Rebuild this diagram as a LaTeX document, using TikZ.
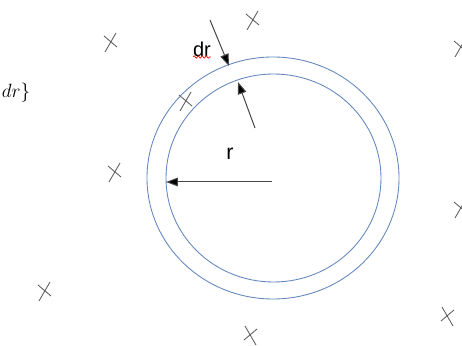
\documentclass[tikz,border=0pt]{standalone}
\usepackage{fontspec}
\setsansfont{Liberation Sans}
\usetikzlibrary{arrows.meta,shapes.geometric,decorations.pathmorphing}
\definecolor{ringblue}{RGB}{100,135,190}
\definecolor{linegray}{RGB}{70,70,70}
\definecolor{xgray}{RGB}{95,95,95}
\tikzset{
  ring/.style={ellipse, draw=ringblue, line width=0.65pt, inner sep=0pt},
  arr/.style={draw=linegray, line width=0.75pt, -{Triangle[length=9pt,width=6.5pt,fill=black]}},
  lbl/.style={font=\sffamily, inner sep=0pt},
  xmk/.pic={\draw[xgray, line width=0.65pt] (-6,10) -- (5,-9) (-7,-6) -- (6,5);}
}
\begin{document}
\begin{tikzpicture}[x=0.75pt,y=-0.75pt]
\useasboundingbox (0,0) rectangle (462,346);
\clip (0,0) rectangle (462,346);
\fill[white] (0,0) rectangle (462,346);
% rings
\node[ring, minimum width=189pt, minimum height=181.5pt] (outer) at (273,178) {};
\node[ring, minimum width=161.25pt, minimum height=156pt] (inner) at (273.5,178) {};
% r arrow
\coordinate (rtail) at (272,182);
\coordinate (rtip) at (166,182);
\draw[arr] (rtail) -- (rtip);
\node[lbl, font=\sffamily\fontsize{16}{16}\selectfont] (rl) at (230,154) {r};
% dr arrows
\coordinate (dtail) at (210,20);
\coordinate (dtip) at (229,66);
\draw[arr] (dtail) -- (dtip);
\coordinate (etail) at (255,128);
\coordinate (etip) at (238,82);
\draw[arr] (etail) -- (etip);
\node[lbl, font=\sffamily\fontsize{15}{15}\selectfont] (drl) at (202,49) {dr};
\coordinate (sqa) at (193,57);
\coordinate (sqb) at (211,57);
\draw[red, line width=0.5pt, decorate, decoration={snake, amplitude=0.9pt, segment length=3pt}] (sqa) -- (sqb);
% side label
\node[inner sep=0pt, font=\fontsize{14}{14}\selectfont] (side) at (16,93) {$dr\}$};
% crosses
\pic at (111,42) {xmk};
\pic at (253,20) {xmk};
\pic at (461,47) {xmk};
\pic at (186,101) {xmk};
\pic at (115,172) {xmk};
\pic at (45,291) {xmk};
\pic at (461,208) {xmk};
\pic[xscale=-1] at (447,316) {xmk};
\pic[xscale=-1] at (250,335) {xmk};
\end{tikzpicture}
\end{document}
